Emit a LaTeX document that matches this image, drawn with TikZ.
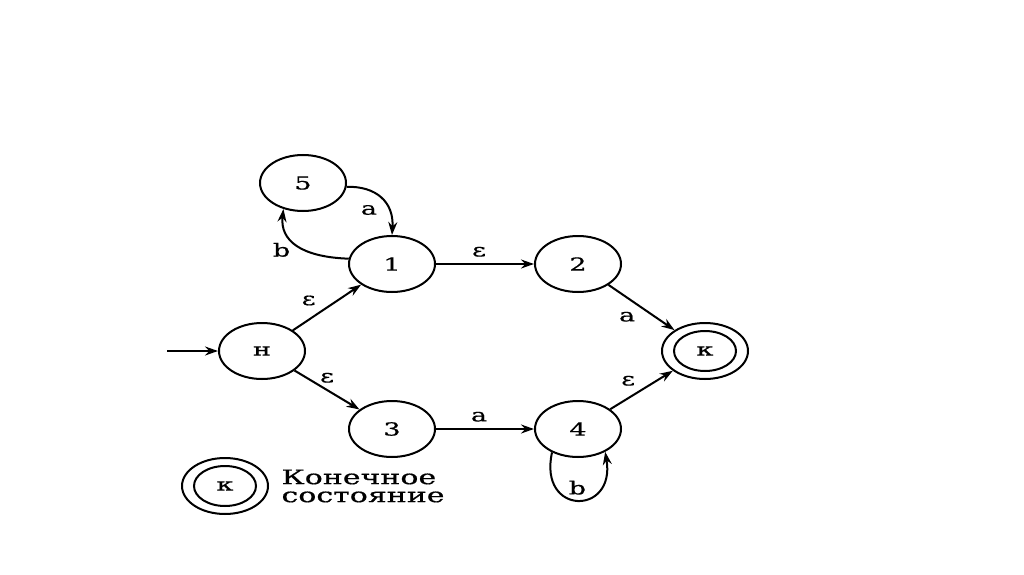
\documentclass[tikz,border=0pt]{standalone}
\usepackage{fontspec}
\setmainfont{DejaVu Serif}[FakeStretch=1.5, FakeBold=0.6]
\usetikzlibrary{shapes.geometric, arrows.meta, positioning}

\tikzset{
  state/.style={draw, ellipse, line width=2pt, minimum width=86pt, minimum height=56pt, inner sep=0pt, font=\fontsize{18}{18}\selectfont},
  inner/.style={draw, ellipse, line width=2pt, minimum width=62pt, minimum height=40pt, inner sep=0pt, font=\fontsize{18}{18}\selectfont},
  edge/.style={line width=2pt, -{Stealth[length=13pt,width=9pt]}},
  lbl/.style={font=\fontsize{18}{18}\selectfont}
}

\begin{document}
\begin{tikzpicture}[x=1pt,y=1pt]
\useasboundingbox[fill=white] (0,0) rectangle (1024,574);
	% states
	\node[state] (nh) at (262,223) {н};
	\node[state] (n1) at (392,310) {1};
	\node[state] (n5) at (303,391) {5};
	\node[state] (n2) at (578,310) {2};
	\node[state] (n3) at (392,145) {3};
	\node[state] (n4) at (578,145) {4};
	\node[state] (nk) at (705,223) {};
	\node[inner] (nki) at (nk) {к};
	\coordinate (start) at (167,223);
	%
	\draw[edge] (start) -- (nh);
	\draw[edge] (nh) -- (n1) node[lbl,midway,left=7pt,yshift=7pt]{ε};
	\draw[edge] (nh) -- (n3) node[lbl,midway,above=3pt]{ε};
	\draw[edge] (n1) -- (n2) node[lbl,midway,above=3pt,xshift=-6pt]{ε};
	\draw[edge] (n3) -- (n4) node[lbl,midway,above=3pt,xshift=-6pt]{a};
	\draw[edge] (n2) -- (nk) node[lbl,midway,below left=0pt and 2pt]{a};
	\draw[edge] (n4) -- (nk) node[lbl,midway,above left=0pt and 2pt]{ε};
	%
	\draw[edge] (n5.-5) .. controls (376,388) and (394,372) .. (n1.north) node[lbl,pos=0.55,below left=0pt and 2pt]{a};
	\draw[edge] (n1.173) .. controls (300,317) and (280,334) .. (n5.233) node[lbl,pos=0.5,left=2pt,yshift=-5pt]{b};
	\draw[edge] (n4.222) .. controls (538,58) and (616,58) .. (n4.320) node[lbl,pos=0.5,above=1pt]{b};
	%
	% legend
	\node[state] (lk) at (225,88) {};
	\node[inner] (lki) at (lk) {к};
	\node[anchor=west, align=left, font=\fontsize{20}{18}\selectfont] (ltext) at (278,88) {Конечное\\состояние};
\end{tikzpicture}
\end{document}
